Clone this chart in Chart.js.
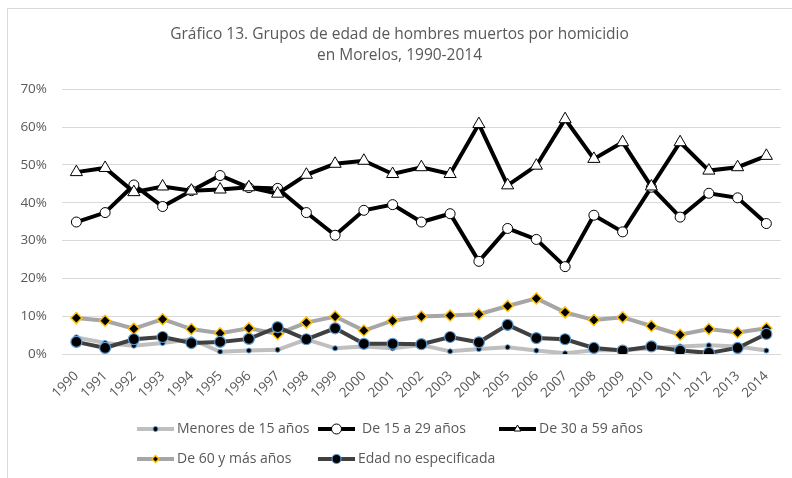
<!DOCTYPE html>
<html>
<head>
<meta charset="utf-8">
<script src="https://cdn.jsdelivr.net/npm/chart.js@4.4.1/dist/chart.umd.min.js"></script>
<style>
  html, body { margin: 0; padding: 0; background: #fff; }
  body { width: 792px; height: 478px; position: relative; overflow: hidden; }
  .frame { position: absolute; left: 7px; top: 8px; width: 820px; height: 500px; border: 1px solid #d9d9d9; box-sizing: border-box; }
  #chart { position: absolute; left: 0; top: 0; }
</style>
</head>
<body>
<div class="frame"></div>
<canvas id="chart" width="792" height="478"></canvas>
<script>
// años
const years = ['1990','1991','1992','1993','1994','1995','1996','1997','1998','1999','2000','2001','2002',
  '2003','2004','2005','2006','2007','2008','2009','2010','2011','2012','2013','2014'];

// porcentajes por grupo de edad
const menores15 = [4.4, 2.9, 2.2, 2.9, 3.9, 0.6, 0.9, 1.1, 3.9, 1.5, 2.0, 1.5, 2.4,
  0.7, 1.3, 1.8, 0.9, 0.2, 1.0, 1.0, 1.5, 2.0, 2.3, 2.0, 0.9];
const de15a29 = [34.9, 37.4, 44.7, 39.0, 43.2, 47.2, 44.0, 43.8, 37.4, 31.4, 38.0, 39.5, 34.9,
  37.1, 24.5, 33.2, 30.3, 23.1, 36.7, 32.3, 44.1, 36.2, 42.5, 41.3, 34.5];
const de30a59 = [48.1, 49.2, 42.8, 44.3, 43.2, 43.5, 44.1, 42.4, 47.4, 50.3, 51.1, 47.6, 49.4,
  47.6, 60.8, 44.6, 49.8, 62.1, 51.6, 56.0, 44.3, 56.0, 48.5, 49.4, 52.4];
const de60ymas = [9.5, 8.8, 6.7, 9.2, 6.6, 5.5, 6.8, 5.3, 8.3, 9.9, 6.2, 8.8, 9.9,
  10.2, 10.5, 12.7, 14.7, 11.0, 9.0, 9.7, 7.4, 5.1, 6.6, 5.7, 6.8];
const noEspecificada = [3.2, 1.6, 3.9, 4.5, 2.9, 3.2, 4.0, 7.1, 3.9, 6.8, 2.7, 2.7, 2.6,
  4.5, 3.1, 7.7, 4.2, 3.9, 1.6, 0.9, 2.0, 0.9, 0.3, 1.6, 5.3];

const yTicks = [0, 10, 20, 30, 40, 50, 60, 70];

const FONT = '"Open Sans", "Noto Sans", sans-serif';
const GRAY_TXT = '#595959';

// leyenda dibujada a mano (línea + marcador como en Excel)
const legendPos = [
  { x: 137, y: 429 }, { x: 318, y: 429 }, { x: 499, y: 429 },
  { x: 137, y: 459 }, { x: 318, y: 459 }
];
const legendPlugin = {
  id: 'excelLegend',
  afterDraw(chart) {
    const ctx = chart.ctx;
    chart.data.datasets.forEach((ds, i) => {
      const p = legendPos[i];
      ctx.save();
      ctx.strokeStyle = ds.borderColor;
      ctx.lineWidth = ds.borderWidth;
      ctx.lineCap = 'butt';
      ctx.beginPath();
      ctx.moveTo(p.x, p.y);
      ctx.lineTo(p.x + 37, p.y);
      ctx.stroke();
      ctx.fillStyle = ds.pointBackgroundColor;
      ctx.strokeStyle = ds.pointBorderColor;
      ctx.lineWidth = ds.pointBorderWidth;
      Chart.helpers.drawPoint(ctx, {
        pointStyle: ds.pointStyle,
        radius: ds.legendRadius,
        rotation: 0,
        borderWidth: ds.pointBorderWidth
      }, p.x + 18.5, p.y);
      ctx.fillStyle = GRAY_TXT;
      ctx.font = '14px ' + FONT;
      ctx.textBaseline = 'middle';
      ctx.fillText(ds.label, p.x + ds.textGap, p.y);
      ctx.restore();
    });
  }
};

const ctx = document.getElementById('chart').getContext('2d');
new Chart(ctx, {
  type: 'line',
  data: {
    labels: years,
    datasets: [
      {
        label: 'Menores de 15 años',
        data: menores15,
        borderColor: '#bfbfbf',
        borderWidth: 4,
        pointStyle: 'circle',
        pointRadius: 2.5,
        pointBackgroundColor: '#000000',
        pointBorderColor: '#5b9bd5',
        pointBorderWidth: 1,
        legendRadius: 2.5,
        textGap: 40,
        order: 5,
      },
      {
        label: 'De 15 a 29 años',
        data: de15a29,
        borderColor: '#000000',
        borderWidth: 4,
        pointStyle: 'circle',
        pointRadius: 5,
        pointBackgroundColor: '#ffffff',
        pointBorderColor: '#000000',
        pointBorderWidth: 1,
        legendRadius: 5,
        textGap: 44,
        order: 4,
      },
      {
        label: 'De 30 a 59 años',
        data: de30a59,
        borderColor: '#000000',
        borderWidth: 4,
        pointStyle: 'triangle',
        pointRadius: 7,
        pointBackgroundColor: '#ffffff',
        pointBorderColor: '#000000',
        pointBorderWidth: 1,
        legendRadius: 4,
        textGap: 40,
        order: 3,
      },
      {
        label: 'De 60 y más años',
        data: de60ymas,
        borderColor: '#a6a6a6',
        borderWidth: 4,
        pointStyle: 'rectRot',
        pointRadius: 5.5,
        pointBackgroundColor: '#000000',
        pointBorderColor: '#ffc000',
        pointBorderWidth: 1.5,
        legendRadius: 3.5,
        textGap: 40,
        order: 2,
      },
      {
        label: 'Edad no especificada',
        data: noEspecificada,
        borderColor: '#404040',
        borderWidth: 4,
        pointStyle: 'circle',
        pointRadius: 5.5,
        pointBackgroundColor: '#000000',
        pointBorderColor: '#5b9bd5',
        pointBorderWidth: 1.2,
        legendRadius: 4.5,
        textGap: 40,
        order: 1,
      },
    ],
  },
  options: {
    responsive: false,
    animation: false,
    layout: { padding: { left: 16, right: 9, top: 0, bottom: 0 } },
    elements: { line: { tension: 0 } },
    scales: {
      x: {
        offset: true,
        grid: { display: false, drawTicks: false },
        border: { display: true, color: '#d9d9d9', width: 1 },
        ticks: {
          color: GRAY_TXT,
          font: { family: FONT, size: 13.5 },
          minRotation: 45,
          maxRotation: 45,
          padding: 14,
          autoSkip: false,
        },
        afterFit(scale) { scale.height = 124; },
      },
      y: {
        min: 0,
        max: 70,
        afterBuildTicks(scale) { scale.ticks = yTicks.map(v => ({ value: v })); },
        grid: { color: '#d9d9d9', drawTicks: false },
        border: { display: false },
        ticks: {
          color: GRAY_TXT,
          font: { family: FONT, size: 13.5 },
          padding: 15,
          callback: v => v + '%',
        },
        afterFit(scale) { scale.width = 46; },
      },
    },
    plugins: {
      legend: { display: false },
      tooltip: { enabled: false },
      title: {
        display: true,
        text: ['Gráfico 13. Grupos de edad de hombres muertos por homicidio', 'en Morelos, 1990-2014'],
        color: GRAY_TXT,
        font: { family: FONT, size: 15.5, weight: 'normal', lineHeight: 1.3 },
        padding: { top: 25, bottom: 24 },
      },
    },
  },
  plugins: [legendPlugin],
});
</script>
</body>
</html>
